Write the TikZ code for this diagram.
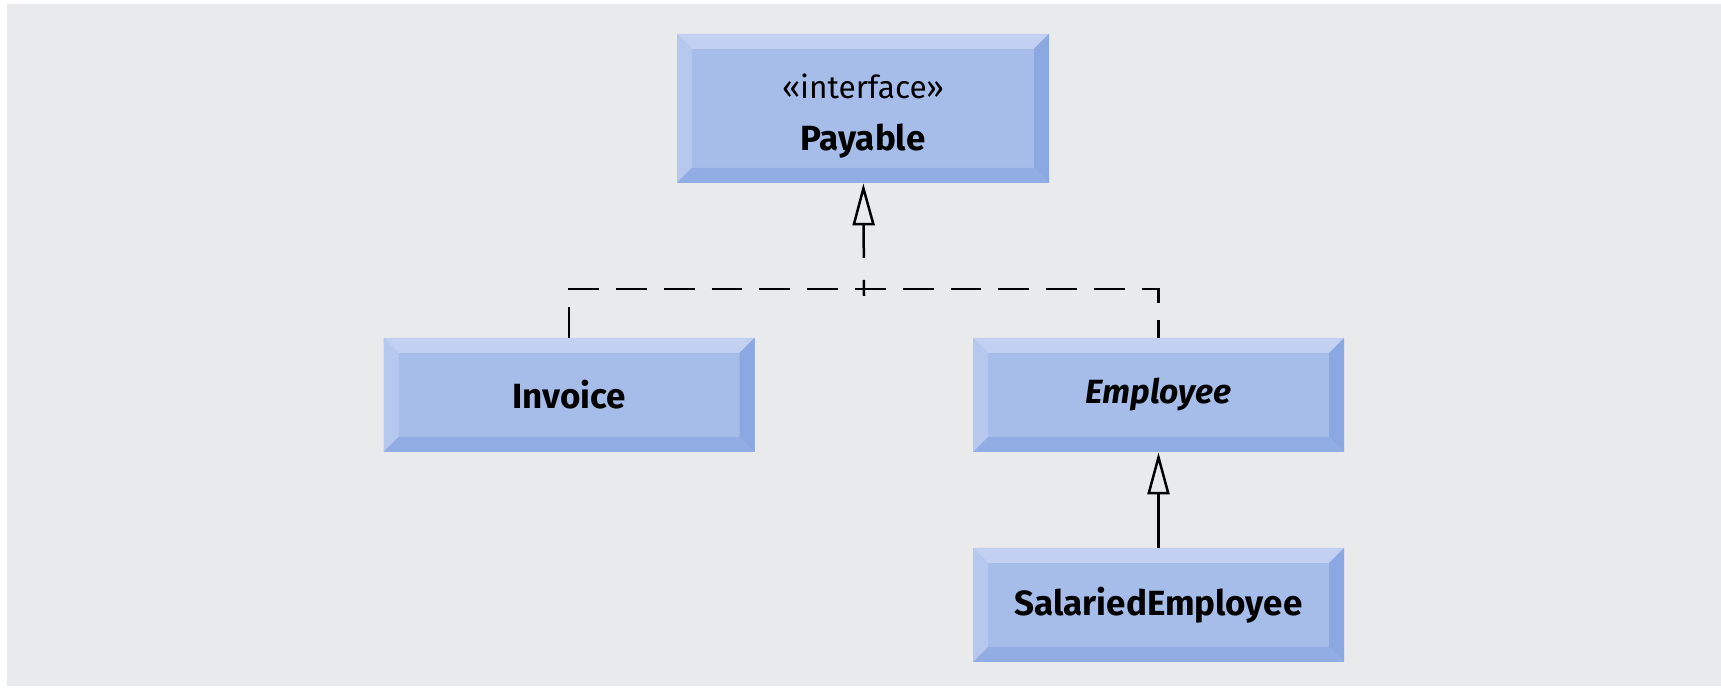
\documentclass[tikz,border=0pt]{standalone}
\usepackage{fontspec}
\setmainfont{Fira Sans}
\usetikzlibrary{arrows.meta}
\definecolor{umlface}{RGB}{167,189,233}
\definecolor{umllight}{RGB}{194,209,241}
\definecolor{umlleft}{RGB}{182,200,238}
\definecolor{umldark}{RGB}{140,168,226}
\definecolor{umlbottom}{RGB}{146,173,228}
\definecolor{sheetgray}{RGB}{233,234,235}

\begin{document}
\begin{tikzpicture}[x=0.5pt,y=-0.5pt,
  classbox/.style={rectangle,fill=umlface,inner sep=0pt,minimum width=185.5pt,minimum height=57pt,
    font=\bfseries\fontsize{17.5}{26}\selectfont,align=center,
    path picture={
      % bevelled edges: light on top and left, dark on right and bottom
      \fill[umllight] (path picture bounding box.north west) -- (path picture bounding box.north east)
        -- ++(-7.5pt,-7.5pt) -- ([shift={(7.5pt,-7.5pt)}]path picture bounding box.north west) -- cycle;
      \fill[umlleft] (path picture bounding box.north west) -- ++(7.5pt,-7.5pt)
        -- ([shift={(7.5pt,7.5pt)}]path picture bounding box.south west) -- (path picture bounding box.south west) -- cycle;
      \fill[umldark] (path picture bounding box.north east) -- (path picture bounding box.south east)
        -- ++(-7.5pt,7.5pt) -- ([shift={(-7.5pt,-7.5pt)}]path picture bounding box.north east) -- cycle;
      \fill[umlbottom] (path picture bounding box.south west) -- ++(7.5pt,7.5pt)
        -- ([shift={(-7.5pt,7.5pt)}]path picture bounding box.south east) -- (path picture bounding box.south east) -- cycle;
    }},
  realize/.style={line width=1.25pt,dash pattern=on 15.4pt off 8.5pt},
  generalize/.style={line width=1.25pt,-{Triangle[open,length=21pt,width=11pt]}}
]
% sheet
\fill[white] (0,0) rectangle (1721,688);
\fill[sheetgray] (7,4) rectangle (1721,686);

% classes
\node[classbox,minimum width=186pt,minimum height=74.5pt] (payable) at (863,108.5)
  {\rule{0pt}{20pt}{\mdseries\fontsize{15.8}{18}\selectfont «interface»}\\ Payable};
\node[classbox] (invoice) at (569,395) {Invoice};
\node[classbox] (employee) at (1158.5,395) {\itshape\fontsize{16.8}{20}\selectfont Employee};
\node[classbox] (salaried) at (1158.5,605) {SalariedEmployee};

% realization of the interface
\coordinate (join) at (864,289);
\coordinate (tail) at (864,296);
\draw[realize] (invoice.north) |- (join) -| (employee.north);
\draw[generalize,dash pattern=on 8pt off 11pt on 17pt off 30pt] (tail) -- (payable);

% inheritance
\draw[generalize] (salaried) -- (employee);

\end{tikzpicture}
\end{document}
